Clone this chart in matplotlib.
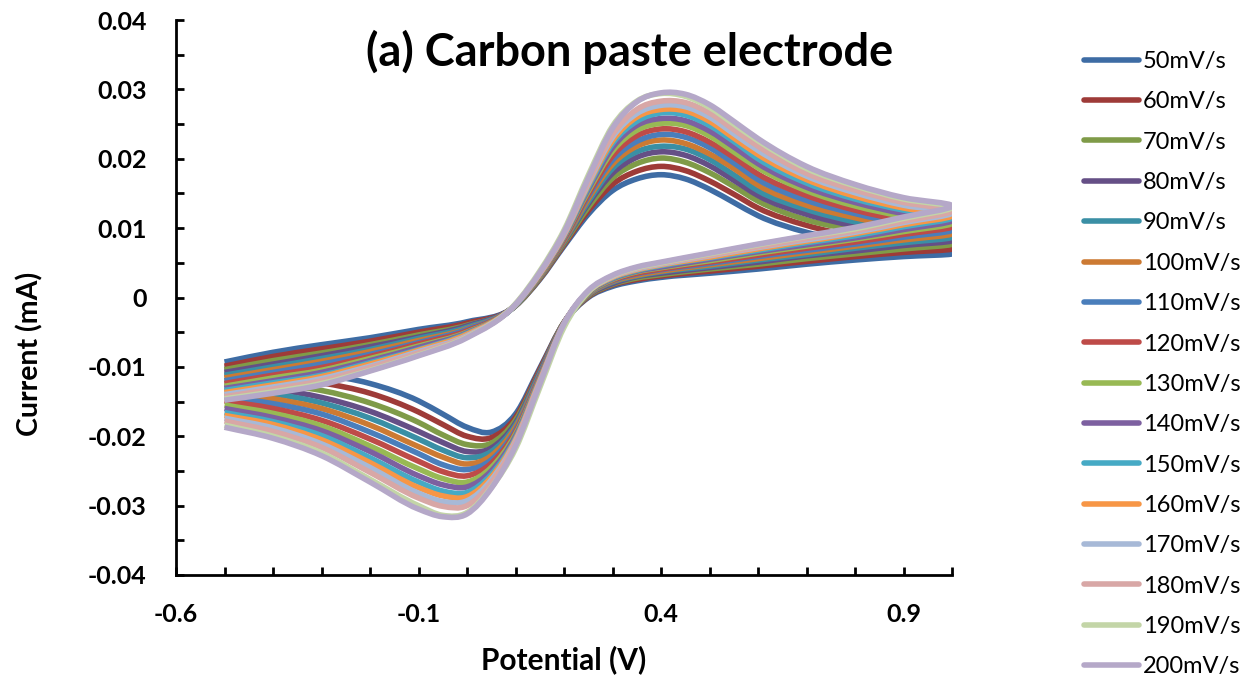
import numpy as np
import matplotlib
matplotlib.use("Agg")
import matplotlib.pyplot as plt
from matplotlib.path import Path
from matplotlib.patches import PathPatch
from matplotlib.lines import Line2D
from matplotlib.ticker import FixedLocator, MultipleLocator, FuncFormatter

plt.rcParams['font.family'] = ['Lato', 'DejaVu Sans']
plt.rcParams['axes.unicode_minus'] = False

# potential of each point of the loop: forward scan -0.5 -> 1.0 V, then back to -0.5 V
potential_V = [-0.5, -0.4, -0.3, -0.2, -0.1, 0.0, 0.1, 0.15, 0.2, 0.25, 0.3, 0.35, 0.4,
               0.45, 0.5, 0.55, 0.6, 0.7, 0.8, 0.9, 1.0,
               0.9, 0.8, 0.7, 0.6, 0.5, 0.4, 0.35, 0.3, 0.25, 0.2, 0.15, 0.1, 0.05,
               0.0, -0.05, -0.1, -0.2, -0.3, -0.4, -0.5]

scan_rates = [50, 60, 70, 80, 90, 100, 110, 120, 130, 140, 150, 160, 170, 180, 190, 200]

# current, in uA (axis is in mA)
i_50 = [-9.3, -7.9, -6.8, -5.8, -4.6, -3.5, -1.2, 2.6, 7.4, 12.0, 15.4, 17.1, 17.7, 17.1, 15.6, 13.7, 11.8, 9.4, 8.0, 7.0, 6.3,
        5.9, 5.4, 4.8, 4.1, 3.5, 2.9, 2.4, 1.6, 0.0, -3.6, -10.2, -16.8, -19.4, -18.7, -16.8, -14.9, -12.4, -11.1, -10.5, -10.1]
i_60 = [-9.9, -8.5, -7.4, -6.3, -5.0, -3.7, -1.2, 2.7, 7.6, 12.5, 16.3, 18.2, 18.9, 18.3, 16.8, 14.9, 12.9, 10.4, 8.8, 7.7, 7.0,
        6.5, 5.9, 5.2, 4.5, 3.8, 3.1, 2.6, 1.8, 0.1, -3.6, -10.4, -17.3, -20.2, -20.0, -18.3, -16.5, -13.8, -12.3, -11.5, -11.0]
i_70 = [-10.4, -9.1, -8.0, -6.8, -5.4, -4.0, -1.2, 2.8, 7.8, 13.0, 17.2, 19.3, 20.1, 19.5, 18.0, 16.0, 13.9, 11.2, 9.7, 8.5, 7.7,
        7.0, 6.3, 5.6, 4.8, 4.1, 3.3, 2.8, 1.9, 0.2, -3.6, -10.7, -17.7, -21.0, -21.2, -19.8, -18.0, -15.2, -13.4, -12.5, -11.8]
i_80 = [-10.8, -9.6, -8.4, -7.1, -5.7, -4.1, -1.1, 2.9, 8.0, 13.5, 17.9, 20.2, 21.0, 20.5, 19.0, 16.9, 14.7, 12.0, 10.3, 9.1, 8.2,
        7.5, 6.7, 6.0, 5.1, 4.3, 3.5, 3.0, 2.0, 0.3, -3.7, -10.8, -18.1, -21.7, -22.2, -20.9, -19.3, -16.4, -14.4, -13.2, -12.5]
i_90 = [-11.2, -10.0, -8.8, -7.5, -5.9, -4.3, -1.1, 3.0, 8.1, 13.8, 18.6, 21.0, 21.8, 21.4, 19.9, 17.7, 15.4, 12.7, 10.9, 9.6, 8.7,
        7.9, 7.1, 6.2, 5.4, 4.5, 3.7, 3.1, 2.2, 0.4, -3.7, -11.0, -18.4, -22.2, -23.1, -22.0, -20.4, -17.4, -15.2, -13.9, -13.1]
i_100 = [-11.6, -10.4, -9.2, -7.8, -6.2, -4.5, -1.1, 3.0, 8.2, 14.2, 19.2, 21.8, 22.7, 22.2, 20.7, 18.6, 16.2, 13.3, 11.5, 10.1, 9.2,
         8.3, 7.4, 6.5, 5.6, 4.7, 3.8, 3.2, 2.3, 0.4, -3.7, -11.2, -18.7, -22.8, -24.0, -23.0, -21.5, -18.4, -16.0, -14.6, -13.7]
i_110 = [-12.0, -10.8, -9.6, -8.2, -6.5, -4.6, -1.1, 3.1, 8.4, 14.6, 19.8, 22.5, 23.5, 23.1, 21.6, 19.4, 17.0, 14.0, 12.1, 10.6, 9.7,
         8.7, 7.7, 6.8, 5.9, 4.9, 4.0, 3.4, 2.4, 0.5, -3.7, -11.3, -19.1, -23.4, -24.8, -24.1, -22.5, -19.4, -16.8, -15.3, -14.3]
i_120 = [-12.4, -11.2, -10.1, -8.5, -6.7, -4.8, -1.1, 3.2, 8.5, 14.9, 20.4, 23.3, 24.3, 23.9, 22.4, 20.2, 17.8, 14.7, 12.6, 11.1, 10.2,
         9.1, 8.0, 7.1, 6.1, 5.1, 4.1, 3.5, 2.5, 0.6, -3.7, -11.5, -19.4, -23.9, -25.7, -25.1, -23.6, -20.4, -17.7, -16.0, -14.9]
i_130 = [-12.8, -11.6, -10.5, -8.8, -7.0, -5.0, -1.1, 3.2, 8.7, 15.3, 21.1, 24.1, 25.1, 24.8, 23.3, 21.0, 18.7, 15.4, 13.2, 11.7, 10.7,
         9.5, 8.4, 7.4, 6.4, 5.3, 4.3, 3.7, 2.6, 0.6, -3.7, -11.7, -19.7, -24.5, -26.6, -26.1, -24.7, -21.4, -18.5, -16.7, -15.5]
i_140 = [-13.1, -12.0, -10.8, -9.1, -7.2, -5.1, -1.1, 3.3, 8.8, 15.6, 21.6, 24.8, 25.8, 25.5, 24.0, 21.7, 19.3, 15.9, 13.7, 12.1, 11.1,
         9.8, 8.6, 7.6, 6.6, 5.5, 4.4, 3.8, 2.7, 0.7, -3.7, -11.8, -20.0, -25.0, -27.3, -27.0, -25.7, -22.2, -19.2, -17.3, -16.0]
i_150 = [-13.4, -12.3, -11.2, -9.4, -7.5, -5.2, -1.1, 3.4, 8.9, 15.9, 22.2, 25.4, 26.6, 26.3, 24.8, 22.5, 20.0, 16.5, 14.2, 12.6, 11.5,
         10.2, 8.9, 7.9, 6.8, 5.7, 4.6, 3.9, 2.8, 0.8, -3.8, -11.9, -20.3, -25.5, -28.1, -27.9, -26.6, -23.1, -19.9, -17.9, -16.6]
i_160 = [-13.7, -12.6, -11.4, -9.6, -7.6, -5.3, -1.0, 3.4, 9.0, 16.2, 22.6, 26.0, 27.1, 26.9, 25.4, 23.0, 20.6, 17.0, 14.6, 12.9, 11.8,
         10.5, 9.2, 8.1, 7.0, 5.8, 4.7, 4.0, 2.9, 0.8, -3.8, -12.0, -20.5, -25.9, -28.7, -28.6, -27.4, -23.8, -20.5, -18.3, -17.0]
i_170 = [-14.0, -12.9, -11.7, -9.9, -7.8, -5.5, -1.0, 3.5, 9.1, 16.4, 23.1, 26.5, 27.7, 27.5, 26.0, 23.6, 21.2, 17.5, 15.1, 13.3, 12.2,
         10.8, 9.4, 8.3, 7.2, 6.0, 4.8, 4.1, 3.0, 0.9, -3.8, -12.2, -20.7, -26.3, -29.3, -29.4, -28.2, -24.5, -21.1, -18.8, -17.4]
i_180 = [-14.3, -13.2, -12.0, -10.1, -8.0, -5.6, -1.0, 3.5, 9.2, 16.7, 23.5, 27.1, 28.3, 28.1, 26.6, 24.2, 21.8, 17.9, 15.5, 13.7, 12.5,
         11.0, 9.6, 8.5, 7.3, 6.1, 4.9, 4.2, 3.0, 0.9, -3.8, -12.3, -20.9, -26.7, -30.0, -30.1, -28.9, -25.2, -21.6, -19.3, -17.8]
i_190 = [-14.6, -13.6, -12.4, -10.5, -8.3, -5.7, -0.9, 3.8, 9.7, 17.6, 24.7, 28.3, 29.4, 29.0, 27.4, 25.0, 22.6, 18.6, 16.1, 14.2, 13.0,
         11.4, 9.9, 8.8, 7.6, 6.3, 5.0, 4.3, 3.1, 0.8, -4.3, -13.0, -21.8, -27.4, -31.0, -31.4, -30.0, -26.2, -22.4, -20.0, -18.4]
i_200 = [-14.8, -13.8, -12.6, -10.6, -8.4, -5.8, -1.0, 3.6, 9.4, 17.2, 24.4, 28.2, 29.5, 29.3, 27.8, 25.4, 22.9, 18.9, 16.3, 14.4, 13.2,
         11.6, 10.1, 8.9, 7.7, 6.4, 5.1, 4.4, 3.2, 1.0, -3.8, -12.5, -21.4, -27.5, -31.2, -31.6, -30.5, -26.6, -22.8, -20.3, -18.7]

currents_uA = [i_50, i_60, i_70, i_80, i_90, i_100, i_110, i_120,
               i_130, i_140, i_150, i_160, i_170, i_180, i_190, i_200]

colors = ['#3E6CA4', '#9E3B38', '#7F9B48', '#654F86', '#3A8FA5', '#CC7A33',
          '#4A7EBB', '#BE4B48', '#98B954', '#7D60A0', '#46AAC5', '#F79646',
          '#A7B9D7', '#D8A7A6', '#C3D5A7', '#B5A8C8']


def smooth_path(x, y):
    # smoothed line through every data point (cubic Hermite, parameter = potential travelled)
    p = np.column_stack([x, y])
    t = np.concatenate([[0.0], np.cumsum(np.abs(np.diff(x)))])
    n = len(p)
    m = np.zeros_like(p)
    m[0] = (p[1] - p[0]) / (t[1] - t[0])
    m[-1] = (p[-1] - p[-2]) / (t[-1] - t[-2])
    for i in range(1, n - 1):
        h0, h1 = t[i] - t[i - 1], t[i + 1] - t[i]
        d0, d1 = (p[i] - p[i - 1]) / h0, (p[i + 1] - p[i]) / h1
        m[i] = (d0 * h1 + d1 * h0) / (h0 + h1)
    verts = [p[0]]
    for i in range(n - 1):
        h = t[i + 1] - t[i]
        verts += [p[i] + m[i] * h / 3.0, p[i + 1] - m[i + 1] * h / 3.0, p[i + 1]]
    codes = [Path.MOVETO] + [Path.CURVE4] * (3 * (n - 1))
    return Path(verts, codes)


W, H = 1251, 686
fig = plt.figure(figsize=(W / 100, H / 100), dpi=100)
ax = fig.add_axes([176 / W, 1 - 575 / H, 776 / W, 555 / H])

LW = 4.0
handles = []
for rate, cur, col in zip(scan_rates, currents_uA, colors):
    path = smooth_path(np.array(potential_V), np.array(cur) / 1000.0)
    ax.add_patch(PathPatch(path, facecolor='none', edgecolor=col, lw=LW,
                           joinstyle='round', capstyle='butt'))
    handles.append(Line2D([], [], color=col, lw=LW, solid_capstyle='round',
                          label=f'{rate}mV/s'))

ax.set_xlim(-0.6, 1.0)
ax.set_ylim(-0.04, 0.04)
ax.xaxis.set_major_locator(FixedLocator([-0.6, -0.1, 0.4, 0.9]))
ax.xaxis.set_minor_locator(MultipleLocator(0.1))
ax.yaxis.set_major_locator(MultipleLocator(0.01))
ax.yaxis.set_minor_locator(MultipleLocator(0.005))
ax.xaxis.set_major_formatter(FuncFormatter(lambda v, p: f'{v:.1f}'))
ax.yaxis.set_major_formatter(FuncFormatter(lambda v, p: '0' if abs(v) < 1e-9 else f'{v:.2f}'))

for s in ['top', 'right']:
    ax.spines[s].set_visible(False)
for s in ['left', 'bottom']:
    ax.spines[s].set_linewidth(2.0)

ax.tick_params(which='both', direction='in', length=6, width=2)
ax.tick_params(axis='y', which='major', labelsize=18, pad=21)
ax.tick_params(axis='x', which='major', labelsize=18, pad=20)
for lab in ax.get_xticklabels() + ax.get_yticklabels():
    lab.set_fontweight('bold')

ax.set_xlabel('Potential (V)', fontsize=21.5, fontweight='bold')
ax.xaxis.set_label_coords(0.5, (575 - 660) / 555)
ax.xaxis.label.set_verticalalignment('center')
ax.set_ylabel('Current (mA)', fontsize=20.5, fontweight='bold')
ax.yaxis.set_label_coords((30 - 176) / 776, (575 - 354) / 555)
ax.yaxis.label.set_verticalalignment('center')
ax.yaxis.label.set_rotation_mode('anchor')

ax.text((630 - 176) / 776, (575 - 52) / 555, '(a) Carbon paste electrode',
        transform=ax.transAxes, ha='center', va='center', fontsize=32.5, fontweight='bold')

ax.legend(handles=handles, loc='upper left', bbox_to_anchor=(1084 / W, 1 - 51 / H),
          bbox_transform=fig.transFigure, frameon=False, fontsize=17,
          handlelength=2.33, handletextpad=0.15, labelspacing=0.82,
          borderpad=0, borderaxespad=0)

fig.savefig('out.png', dpi=100)
